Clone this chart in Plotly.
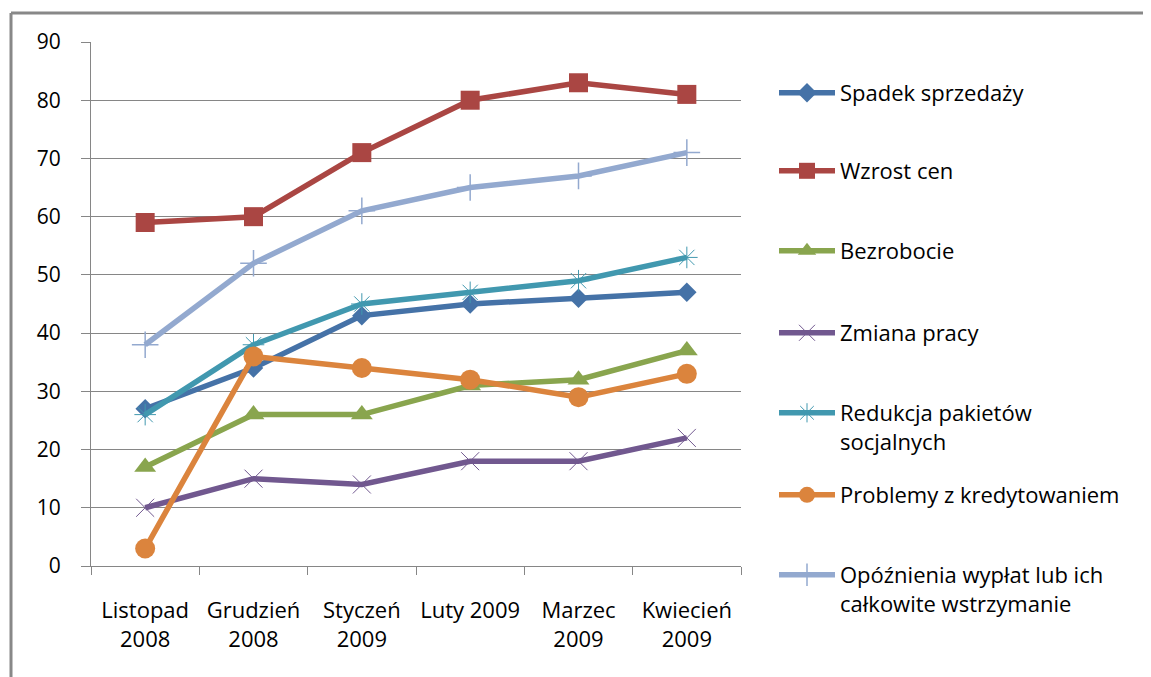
import plotly.graph_objects as go

months = ["Listopad<br>2008", "Grudzień<br>2008", "Styczeń<br>2009",
          "Luty 2009", "Marzec<br>2009", "Kwiecień<br>2009"]

spadek_sprzedazy = [27, 34, 43, 45, 46, 47]
wzrost_cen = [59, 60, 71, 80, 83, 81]
bezrobocie = [17, 26, 26, 31, 32, 37]
zmiana_pracy = [10, 15, 14, 18, 18, 22]
redukcja_pakietow = [26, 38, 45, 47, 49, 53]
problemy_kredyt = [3, 36, 34, 32, 29, 33]
opoznienia_wyplat = [38, 52, 61, 65, 67, 71]

W, H = 1151, 677
OFF = 8                          # page body margin
L, R, T, B = 91, 741, 42, 566    # plot area in screen pixels

FONT = "Open Sans"
FS = 22

series = [
    ("Spadek sprzedaży", spadek_sprzedazy, "#4572A7", "diamond", 15, 0, 93),
    ("Wzrost cen", wzrost_cen, "#AA4643", "square", 19, 0, 171),
    ("Bezrobocie", bezrobocie, "#89A54E", "triangle-up", 19, 0, 251),
    ("Zmiana pracy", zmiana_pracy, "#71588F", "x-thin", 18, 1, 333),
    ("Redukcja pakietów<br>socjalnych", redukcja_pakietow, "#4198AF", "asterisk", 18, 1, 413),
    ("Problemy z kredytowaniem", problemy_kredyt, "#DB843D", "circle", 20, 0, 495),
    ("Opóźnienia wypłat lub ich<br>całkowite wstrzymanie", opoznienia_wyplat, "#93A9CF", "cross-thin", 19, 1.5, 575),
]

def py(pix):
    return (B - pix) / (B - T)

def px_(pix):
    return (pix - L) / (R - L)

fig = go.Figure()
layout_legends = {}
for i, (name, vals, color, sym, size, lw, ly) in enumerate(series):
    key = "legend" if i == 0 else f"legend{i + 1}"
    fig.add_trace(go.Scatter(
        x=months, y=vals, name=name, mode="lines+markers",
        line=dict(color=color, width=5.5),
        marker=dict(symbol=sym, size=size, color=color,
                    line=dict(color=color, width=lw)),
        legend=key,
    ))
    layout_legends[key] = dict(
        x=px_(774), xanchor="left",
        y=py(ly - 21), yanchor="top",
        valign="top",
        bgcolor="rgba(0,0,0,0)",
        itemwidth=56,
        font=dict(family=FONT, size=FS, color="#000000"),
    )

fig.update_layout(
    width=W, height=H,
    margin=dict(l=L - OFF, r=W - (R - OFF), t=T - OFF, b=H - (B - OFF), autoexpand=False),
    plot_bgcolor="white",
    paper_bgcolor="white",
    font=dict(family=FONT, size=FS, color="#000000"),
    showlegend=True,
    **layout_legends,
)

fig.update_xaxes(
    type="category",
    range=[-0.5, 5.5],
    tickson="boundaries",
    tickangle=0,
    ticks="outside", ticklen=8, tickcolor="#868686", tickwidth=1,
    showline=True, linecolor="#868686", linewidth=1,
    showgrid=False,
    ticklabelstandoff=25,
    tickfont=dict(family=FONT, size=FS, color="#000000"),
    automargin=False,
)
fig.update_yaxes(
    range=[0, 90], dtick=10,
    ticks="outside", ticklen=9, tickcolor="#868686", tickwidth=1,
    showline=True, linecolor="#868686", linewidth=1,
    showgrid=True, gridcolor="#868686", gridwidth=1,
    zeroline=False,
    ticklabelstandoff=16,
    tickfont=dict(family=FONT, size=21, color="#000000"),
    automargin=False,
)

# chart frame (top and left edges visible)
fig.add_shape(type="line", xref="paper", yref="paper",
              x0=px_(11), x1=px_(1200), y0=py(13), y1=py(13),
              line=dict(color="#888888", width=3))
fig.add_shape(type="line", xref="paper", yref="paper",
              x0=px_(11), x1=px_(11), y0=py(13), y1=py(720),
              line=dict(color="#888888", width=3))

fig.write_html("out.html")
